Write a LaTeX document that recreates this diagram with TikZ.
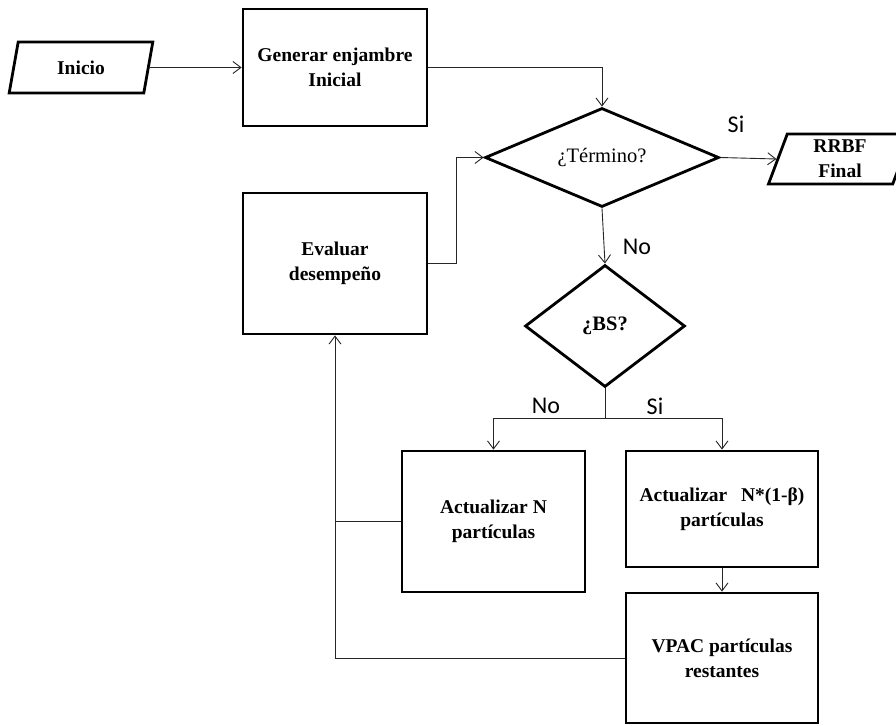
\documentclass[tikz,border=0pt]{standalone}
\usepackage{fontspec}
\setmainfont{Liberation Serif}
\newfontfamily\lblfont{Carlito}
\usetikzlibrary{shapes.geometric,arrows.meta}

\begin{document}
\begin{tikzpicture}[x=1pt,y=-1pt,
  boxtext/.style={font=\fontsize{19.5}{25}\selectfont\bfseries, align=center},
  procbox/.style={draw, line width=2.8pt, rectangle, inner sep=0pt, boxtext},
  iobox/.style={draw, line width=2.8pt, trapezium, trapezium left angle=76,
    trapezium right angle=104, trapezium stretches=true, inner sep=0pt, boxtext},
  decision/.style={draw, line width=2.8pt, diamond, inner sep=0pt,
    font=\fontsize{20.5}{25}\selectfont, align=center},
  link/.style={draw=black!85, line width=0.9pt},
  conn/.style={link, -{Straight Barb[length=8pt,width=12pt,line width=0.9pt]}},
  branch/.style={font=\lblfont\fontsize{24}{28}\selectfont}]

\useasboundingbox (0,0) rectangle (896,725);
\clip (0,0) rectangle (896,725);

% blocks
\node[iobox, minimum width=144, minimum height=51] (inicio) at (81,67.5) {Inicio};
\node[procbox, minimum width=184, minimum height=117] (gen) at (335,67.5) {Generar enjambre\\Inicial};
\node[decision, shape aspect=2.36, minimum width=234, minimum height=99] (ter) at (602,157.5) {¿Término?};
\node[iobox, minimum width=144, minimum height=50] (rrbf) at (840,159) {RRBF\\Final};
\node[procbox, minimum width=184, minimum height=141] (eval) at (335,263.5) {Evaluar\\desempeño};
\node[decision, shape aspect=1.31, minimum width=160, minimum height=122] (bs) at (605,326) {\bfseries ¿BS?};
\node[procbox, minimum width=183, minimum height=141] (actN) at (493.5,521.5) {Actualizar N\\partículas};
\node[procbox, minimum width=192, minimum height=116] (actB) at (722,509) {Actualizar\hspace{0.7em}N*(1-β)\\partículas};
\node[procbox, minimum width=192, minimum height=130] (vpac) at (722,658) {VPAC partículas\\restantes};

% branch labels
\node[branch] (siT) at (736,124) {Si};
\node[branch] (noT) at (637,247) {No};
\node[branch] (noB) at (546,406) {No};
\node[branch] (siB) at (655,406) {Si};

% helper points
\coordinate (split) at (605,418);
\coordinate (evx) at (456,0);

% connectors
\draw[conn] (inicio.east) -- (gen.west);
\draw[conn] (gen.east) -| (ter.north);
\draw[conn] (ter.east) -- (rrbf.west);
\draw[conn] (ter.south) -- (bs.north);
\draw[link] (bs.south) -- (split);
\draw[conn] (split) -| (actN.north);
\draw[conn] (split) -| (actB.north);
\draw[conn] (actB.south) -- (vpac.north);
\draw[conn] (vpac.west) -| (eval.south);
\draw[link] (actN.west) -- (actN.west -| eval.south);
\draw[conn] (eval.east) -- (eval.east -| evx) |- (ter.west);

\end{tikzpicture}
\end{document}
